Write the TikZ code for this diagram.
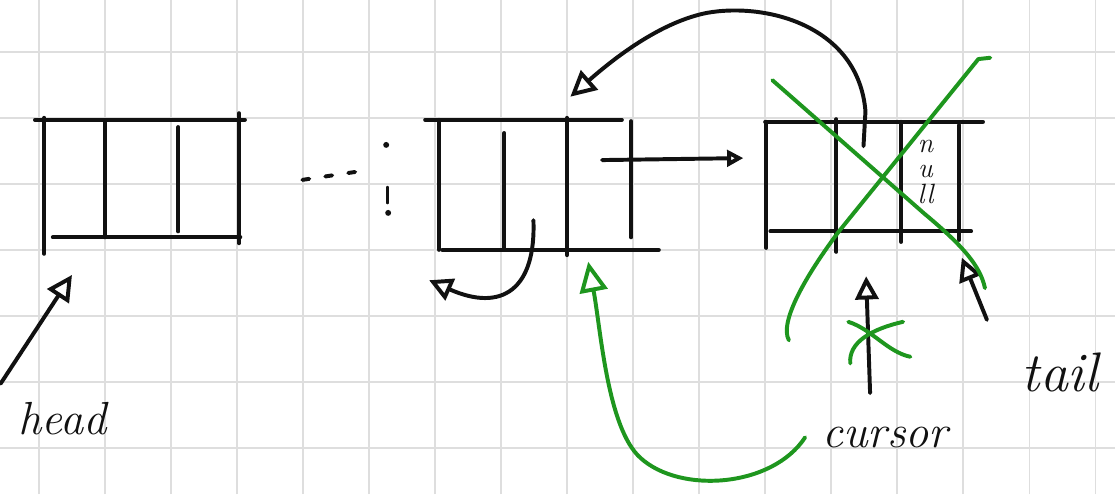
\documentclass[tikz,border=0pt]{standalone}
\usetikzlibrary{arrows.meta, positioning}
\definecolor{penc}{HTML}{111111}
\definecolor{crossc}{HTML}{1E961E}
\definecolor{gridc}{HTML}{DEDEDE}

\begin{document}
\begin{tikzpicture}[
  pen/.style={draw=penc, line width=1.7pt, line cap=round, line join=round},
  grn/.style={draw=crossc, line width=1.7pt, line cap=round, line join=round},
  gridln/.style={draw=gridc, line width=0.6pt},
  opentip/.style={-{Triangle[open, length=#1, width=#1]}},
  opentip/.default=9pt,
  lbl/.style={font=\fontsize{20}{22}\selectfont\itshape, text=penc}]
  \useasboundingbox[fill=white] (0,0) rectangle (16.89,7.485);
  % paper grid
  \foreach \i in {0,...,16}
    \draw[gridln] (0.59+\i,0) -- (0.59+\i,7.485);
  \foreach \j in {0,...,6}
    \draw[gridln] (0,0.697+\j) -- (16.89,0.697+\j);
  % first node
  \draw[pen] (0.53,5.67) -- (3.71,5.67);
  \draw[pen] (0.80,3.89) -- (3.64,3.89);
  \draw[pen] (0.67,5.70) -- (0.67,3.64);
  \draw[pen] (1.59,5.64) -- (1.59,3.89);
  \draw[pen] (2.70,5.56) -- (2.70,3.98);
  \draw[pen] (3.62,5.77) -- (3.62,3.80);
  % dots
  \draw[pen, dash pattern=on 3pt off 7pt] (4.58,4.76) -- (5.38,4.88);
  \fill[penc] (5.85,5.29) circle (0.045);
  \draw[pen] (5.87,4.64) -- (5.87,4.42);
  \fill[penc] (5.88,4.26) circle (0.045);
  % second node
  \draw[pen] (6.44,5.67) -- (9.42,5.67);
  \draw[pen] (6.70,3.70) -- (9.98,3.70);
  \draw[pen] (6.65,5.67) -- (6.65,3.70);
  \draw[pen] (7.64,5.47) -- (7.64,3.73);
  \draw[pen] (8.59,5.70) -- (8.59,3.62);
  \draw[pen] (9.56,5.65) -- (9.56,3.89);
  % third node
  \draw[pen] (11.59,5.64) -- (14.89,5.64);
  \draw[pen] (11.67,3.98) -- (14.71,3.98);
  \draw[pen] (11.61,5.64) -- (11.61,3.73);
  \draw[pen] (12.67,5.68) -- (12.67,3.67);
  \draw[pen] (13.65,5.64) -- (13.65,3.82);
  \draw[pen] (14.53,5.59) -- (14.53,3.85);
  \node[font=\fontsize{12}{11}\selectfont\itshape, text=penc, align=center]
    (null) at (14.02,4.88) {n\\u\\ll};
  % labels
  \node[lbl] (head) at (0.95,1.15) {head};
  \node[lbl] (cursor) at (13.41,0.86) {cursor};
  \node[lbl, font=\fontsize{24}{26}\selectfont\itshape] (tail) at (16.06,1.85) {tail};
  % pointers
  \coordinate (n1in) at (1.09,3.32);
  \coordinate (n2nx) at (9.12,5.06);
  \coordinate (n3in) at (11.26,5.09);
  \coordinate (n2pv) at (8.08,4.15);
  \coordinate (n2out) at (6.50,3.24);
  \coordinate (n3pv) at (13.08,5.27);
  \coordinate (n2top) at (8.64,6.02);
  \coordinate (n2bot) at (8.91,3.52);
  \coordinate (oldc) at (13.18,1.53);
  \coordinate (oldt) at (13.12,3.30);
  \coordinate (tl) at (14.95,2.64);
  \coordinate (tlt) at (14.57,3.58);
  \draw[pen, opentip=11pt] ([shift={(-0.15,0.15)}]head.north west) -- (n1in);
  \draw[pen, opentip=7pt] (n2nx) -- (n3in);
  \draw[pen, opentip=10pt] (n2pv) .. controls (8.12,3.1) and (7.6,2.75) .. (n2out);
  \draw[pen, opentip=11pt] (n3pv) -- (13.11,5.8)
    .. controls (13.0,7.1) and (11.6,7.45) .. (10.71,7.29)
    .. controls (10.0,7.15) and (9.3,6.6) .. (n2top);
  \draw[pen, opentip=10pt] (oldc) -- (oldt);
  \draw[pen, opentip=10pt] (tl) -- (tlt);
  \draw[grn, -{Triangle[open, length=13pt, width=12pt]}] ([xshift=-4pt]cursor.west)
    .. controls (11.7,0.1) and (10.3,0.0) .. (9.7,0.55)
    .. controls (9.2,1.0) and (9.1,2.5) .. (n2bot);
  % crossed out
  \draw[grn] (11.70,6.27) -- (14.0,4.25)
    .. controls (14.6,3.75) and (14.85,3.45) .. (14.92,3.12);
  \draw[grn] (15.0,6.61) -- (14.82,6.59) -- (12.7,3.97)
    .. controls (12.2,3.3) and (11.8,2.6) .. (11.95,2.33);
  \draw[grn] (12.85,2.61) .. controls (13.2,2.5) and (13.45,2.15) .. (13.79,2.08);
  \draw[grn] (12.88,1.98) .. controls (12.85,2.3) and (13.2,2.5) .. (13.68,2.61);
\end{tikzpicture}
\end{document}
